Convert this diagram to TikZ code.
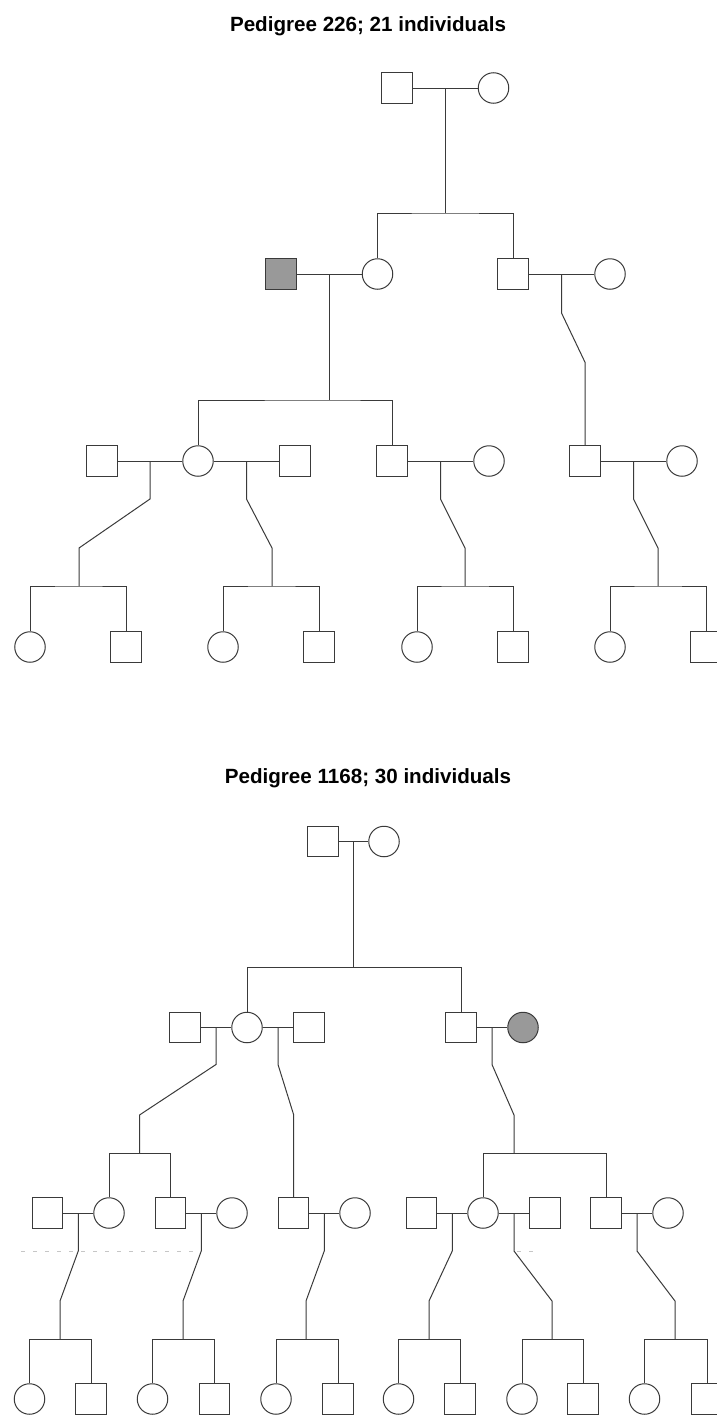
\documentclass[tikz,border=0pt]{standalone}
\usepackage{fontspec}
\setmainfont{Liberation Sans}
\usetikzlibrary{calc}
\definecolor{LINE_COLOR}{HTML}{3A3A3A}
\definecolor{AFF_COLOR}{HTML}{999999}
\tikzstyle{person} = [draw=LINE_COLOR, line width=1pt, inner sep=0pt, minimum size=30.5pt, fill=white]
\tikzstyle{male} = [person, rectangle]
\tikzstyle{female} = [person, circle]
\tikzstyle{affected} = [fill=AFF_COLOR]
\tikzstyle{link} = [draw=LINE_COLOR, line width=1pt]
\tikzstyle{ghost} = [draw=gray!45, line width=0.6pt, dash pattern=on 4pt off 8pt]
\tikzstyle{pedtitle} = [anchor=base, font=\fontsize{20.6}{24}\selectfont\bfseries]

\begin{document}
\begin{tikzpicture}[x=1pt, y=-1pt]
      \clip (0,0) rectangle (717,1416);

      %%%%%%%%%%%%%%%%%%%%%%%%%%%%%%%%%%%%%%%%%%%%%%%%%
      % PEDIGREE 226
      %%%%%%%%%%%%%%%%%%%%%%%%%%%%%%%%%%%%%%%%%%%%%%%%%
      \node[pedtitle] (T1) at (368,31) {Pedigree 226; 21 individuals};

      % generation I
      \node[male]   (A1) at (397,88)   {};
      \node[female] (A2) at (493.5,88) {};
      % generation II
      \node[male, affected] (A3) at (281,274) {};
      \node[female] (A4) at (377.5,274) {};
      \node[male]   (A5) at (513,274)   {};
      \node[female] (A6) at (610,274)   {};
      % generation III
      \node[male]   (A7)  at (102,461) {};
      \node[female] (A8)  at (198,461) {};
      \node[male]   (A9)  at (295,461) {};
      \node[male]   (A10) at (392,461) {};
      \node[female] (A11) at (489,461) {};
      \node[male]   (A12) at (585,461) {};
      \node[female] (A13) at (682,461) {};
      % generation IV
      \node[female] (A14) at (30,647)  {};
      \node[male]   (A15) at (126,647) {};
      \node[female] (A16) at (223,647) {};
      \node[male]   (A17) at (319,647) {};
      \node[female] (A18) at (417,647) {};
      \node[male]   (A19) at (513,647) {};
      \node[female] (A20) at (610,647) {};
      \node[male]   (A21) at (706,647) {};

      % unions
      \coordinate (ua1) at ($(A1)!0.5!(A2)$);
      \coordinate (ua2) at ($(A3)!0.5!(A4)$);
      \coordinate (ua3) at ($(A5)!0.5!(A6)$);
      \coordinate (ua4) at ($(A7)!0.5!(A8)$);
      \coordinate (ua5) at ($(A8)!0.5!(A9)$);
      \coordinate (ua6) at ($(A10)!0.5!(A11)$);
      \coordinate (ua7) at ($(A12)!0.5!(A13)$);
      % sibship points
      \coordinate (sa1) at ($(ua1)+(0,125)$);
      \coordinate (sa2) at ($(ua2)+(0,126)$);
      \coordinate (sa4) at (79,586);
      \coordinate (sa5) at (272,586);
      \coordinate (sa6) at (465,586);
      \coordinate (sa7) at (658,586);

      \draw[link] (A1) -- (A2);
      \draw[link] (A3) -- (A4);
      \draw[link] (A5) -- (A6);
      \draw[link] (A7) -- (A8);
      \draw[link] (A8) -- (A9);
      \draw[link] (A10) -- (A11);
      \draw[link] (A12) -- (A13);

      \draw[link] (ua1) -- (sa1);
      \draw[link] (A4.north) |- (sa1) -| (A5.north);
      \draw[link] (ua2) -- (sa2);
      \draw[link] (A8.north) |- (sa2) -| (A10.north);
      \draw[link] (ua3) -- ++(0,39) -- ($(A12.north)+(0,-83)$) -- (A12.north);
      \draw[link] (ua4) -- ++(0,38) -- ($(sa4)+(0,-38)$) -- (sa4);
      \draw[link] (A14.north) |- (sa4) -| (A15.north);
      \draw[link] (ua5) -- ++(0,38) -- ($(sa5)+(0,-38)$) -- (sa5);
      \draw[link] (A16.north) |- (sa5) -| (A17.north);
      \draw[link] (ua6) -- ++(0,38) -- ($(sa6)+(0,-38)$) -- (sa6);
      \draw[link] (A18.north) |- (sa6) -| (A19.north);
      \draw[link] (ua7) -- ++(0,38) -- ($(sa7)+(0,-38)$) -- (sa7);
      \draw[link] (A20.north) |- (sa7) -| (A21.north);

      %%%%%%%%%%%%%%%%%%%%%%%%%%%%%%%%%%%%%%%%%%%%%%%%%
      % PEDIGREE 1168
      %%%%%%%%%%%%%%%%%%%%%%%%%%%%%%%%%%%%%%%%%%%%%%%%%
      \node[pedtitle] (T2) at (368,783) {Pedigree 1168; 30 individuals};

      % generation I
      \node[male]   (B1) at (323,841.5) {};
      \node[female] (B2) at (384,841.5) {};
      % generation II
      \node[male]   (B3) at (185,1027.5) {};
      \node[female] (B4) at (247,1027.5) {};
      \node[male]   (B5) at (309,1027.5) {};
      \node[male]   (B6) at (461,1027.5) {};
      \node[female, affected] (B7) at (523,1027.5) {};
      % generation III
      \node[male]   (B8)  at (47.5,1213)  {};
      \node[female] (B9)  at (109,1213)   {};
      \node[male]   (B10) at (170.5,1213) {};
      \node[female] (B11) at (232,1213)   {};
      \node[male]   (B12) at (293.5,1213) {};
      \node[female] (B13) at (355,1213)   {};
      \node[male]   (B14) at (421.5,1213) {};
      \node[female] (B15) at (483,1213)   {};
      \node[male]   (B16) at (545,1213)   {};
      \node[male]   (B17) at (606,1213)   {};
      \node[female] (B18) at (668,1213)   {};
      % generation IV
      \node[female] (B19) at (29.5,1399)  {};
      \node[male]   (B20) at (91,1399)    {};
      \node[female] (B21) at (152.5,1399) {};
      \node[male]   (B22) at (214.5,1399) {};
      \node[female] (B23) at (276,1399)   {};
      \node[male]   (B24) at (338,1399)   {};
      \node[female] (B25) at (398.5,1399) {};
      \node[male]   (B26) at (460,1399)   {};
      \node[female] (B27) at (522,1399)   {};
      \node[male]   (B28) at (583,1399)   {};
      \node[female] (B29) at (644.5,1399) {};
      \node[male]   (B30) at (707,1399)   {};

      % unions
      \coordinate (ub1)  at ($(B1)!0.5!(B2)$);
      \coordinate (ub2)  at ($(B3)!0.5!(B4)$);
      \coordinate (ub3)  at ($(B4)!0.5!(B5)$);
      \coordinate (ub4)  at ($(B6)!0.5!(B7)$);
      \coordinate (ub5)  at ($(B8)!0.5!(B9)$);
      \coordinate (ub6)  at ($(B10)!0.5!(B11)$);
      \coordinate (ub7)  at ($(B12)!0.5!(B13)$);
      \coordinate (ub8)  at ($(B14)!0.5!(B15)$);
      \coordinate (ub9)  at ($(B15)!0.5!(B16)$);
      \coordinate (ub10) at ($(B17)!0.5!(B18)$);
      % sibship points
      \coordinate (sb1)  at ($(ub1)+(0,125.5)$);
      \coordinate (sb2)  at (139.5,1153);
      \coordinate (sb4)  at (514,1153);
      \coordinate (sb5)  at (60,1339);
      \coordinate (sb6)  at (183,1339);
      \coordinate (sb7)  at (306,1339);
      \coordinate (sb8)  at (429,1339);
      \coordinate (sb9)  at (552,1339);
      \coordinate (sb10) at (675,1339);

      \draw[link] (B1) -- (B2);
      \draw[link] (B3) -- (B4);
      \draw[link] (B4) -- (B5);
      \draw[link] (B6) -- (B7);
      \draw[link] (B8) -- (B9);
      \draw[link] (B10) -- (B11);
      \draw[link] (B12) -- (B13);
      \draw[link] (B14) -- (B15);
      \draw[link] (B15) -- (B16);
      \draw[link] (B17) -- (B18);

      \draw[link] (ub1) -- (sb1);
      \draw[link] (B4.north) |- (sb1) -| (B6.north);
      \draw[link] (ub2) -- ++(0,37) -- ($(sb2)+(0,-38)$) -- (sb2);
      \draw[link] (B9.north) |- (sb2) -| (B10.north);
      \draw[link] (ub3) -- ++(0,37) -- ($(B12.north)+(0,-83)$) -- (B12.north);
      \draw[link] (ub4) -- ++(0,37) -- ($(sb4)+(0,-38)$) -- (sb4);
      \draw[link] (B15.north) |- (sb4) -| (B17.north);
      \draw[link] (ub5) -- ++(0,38) -- ($(sb5)+(0,-38)$) -- (sb5);
      \draw[link] (B19.north) |- (sb5) -| (B20.north);
      \draw[link] (ub6) -- ++(0,38) -- ($(sb6)+(0,-38)$) -- (sb6);
      \draw[link] (B21.north) |- (sb6) -| (B22.north);
      \draw[link] (ub7) -- ++(0,38) -- ($(sb7)+(0,-38)$) -- (sb7);
      \draw[link] (B23.north) |- (sb7) -| (B24.north);
      \draw[link] (ub8) -- ++(0,38) -- ($(sb8)+(0,-38)$) -- (sb8);
      \draw[link] (B25.north) |- (sb8) -| (B26.north);
      \draw[link] (ub9) -- ++(0,38) -- ($(sb9)+(0,-38)$) -- (sb9);
      \draw[link] (B27.north) |- (sb9) -| (B28.north);
      \draw[link] (ub10) -- ++(0,38) -- ($(sb10)+(0,-38)$) -- (sb10);
      \draw[link] (B29.north) |- (sb10) -| (B30.north);

      % faint guide
      \draw[ghost] (21,1251) -- (200,1251);
      \draw[ghost] (517,1251) -- (533,1251);

\end{tikzpicture}
\end{document}
